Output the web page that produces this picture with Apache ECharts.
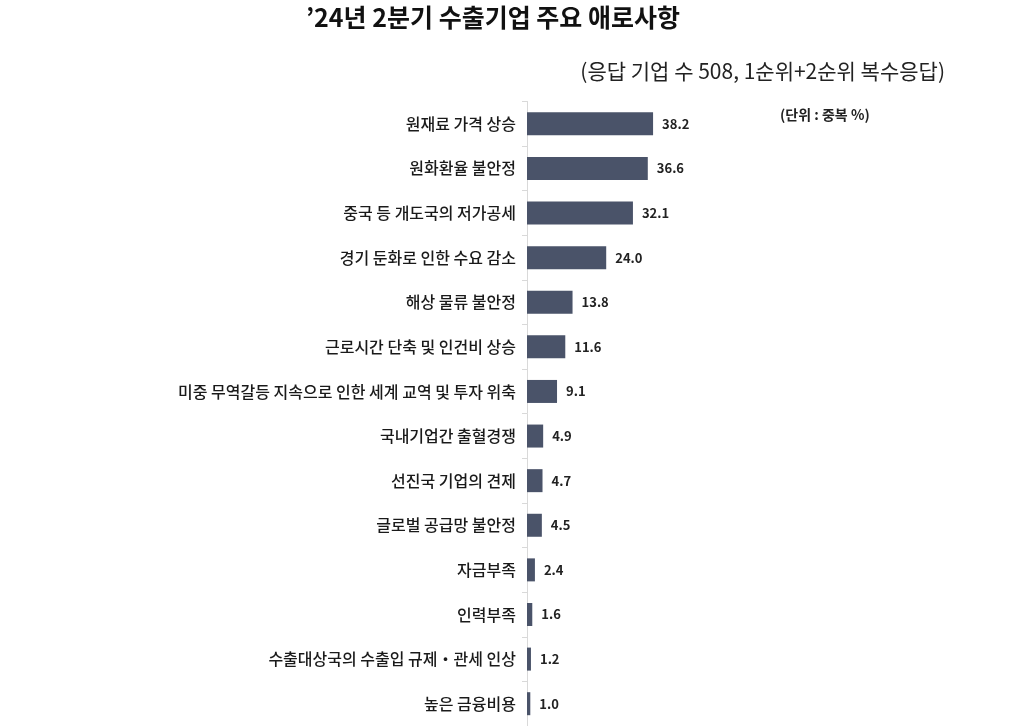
<!doctype html>
<html>
<head>
<meta charset="utf-8">
<title>수출기업 주요 애로사항</title>
<script src="https://cdn.jsdelivr.net/npm/echarts@6/dist/echarts.min.js"></script>
<style>
  html, body { margin: 0; padding: 0; background: #fff; }
  #main { width: 1024px; height: 726px; }
</style>
</head>
<body>
<div id="main"></div>
<script>
// 항목 (위에서 아래 순서)
var categories = [
    '원재료 가격 상승',
    '원화환율 불안정',
    '중국 등 개도국의 저가공세',
    '경기 둔화로 인한 수요 감소',
    '해상 물류 불안정',
    '근로시간 단축 및 인건비 상승',
    '미중 무역갈등 지속으로 인한 세계 교역 및 투자 위축',
    '국내기업간 출혈경쟁',
    '선진국 기업의 견제',
    '글로벌 공급망 불안정',
    '자금부족',
    '인력부족',
    '수출대상국의 수출입 규제・관세 인상',
    '높은 금융비용'
];
// 응답 비율 (중복 %)
var values = [38.2, 36.6, 32.1, 24.0, 13.8, 11.6, 9.1, 4.9, 4.7, 4.5, 2.4, 1.6, 1.2, 1.0];

var FONT = '"Noto Sans CJK KR", "Noto Sans", sans-serif';
var myChart = echarts.init(document.getElementById('main'));

var option = {
    backgroundColor: '#ffffff',
    title: [{
        text: '\u201924년 2분기 수출기업 주요 애로사항',
        left: 488, top: 0, textAlign: 'center',
        textStyle: { fontFamily: FONT, fontSize: 25, fontWeight: 'bold', color: '#111' }
    }, {
        text: '(응답 기업 수 508, 1순위+2순위 복수응답)',
        right: 74, top: 56,
        textStyle: { fontFamily: FONT, fontSize: 21, fontWeight: 'normal', color: '#222' }
    }, {
        text: '(단위 : 중복 %)',
        left: 775, top: 103,
        textStyle: { fontFamily: FONT, fontSize: 14, fontWeight: 'bold', color: '#222' }
    }],
    grid: { left: 527, top: 101.5, height: 630, width: 200 },
    xAxis: {
        type: 'value', min: 0, max: 60.6,
        show: false
    },
    yAxis: {
        type: 'category',
        inverse: true,
        data: categories,
        axisLine: { show: true, lineStyle: { color: '#d9d9d9', width: 1 } },
        axisTick: { show: true, length: 5, lineStyle: { color: '#d9d9d9' } },
        axisLabel: {
            margin: 11,
            fontFamily: FONT, fontSize: 16, fontWeight: 500, color: '#1a1a1a'
        },
        splitLine: { show: false }
    },
    series: [{
        type: 'bar',
        data: values,
        barWidth: 23,
        itemStyle: { color: '#4a5369' },
        label: {
            show: true, position: 'right', distance: 9,
            formatter: function (p) { return p.value.toFixed(1); },
            fontFamily: FONT, fontSize: 13, fontWeight: 'bold', color: '#222'
        },
        animation: false
    }]
};
myChart.setOption(option);
</script>
</body>
</html>
